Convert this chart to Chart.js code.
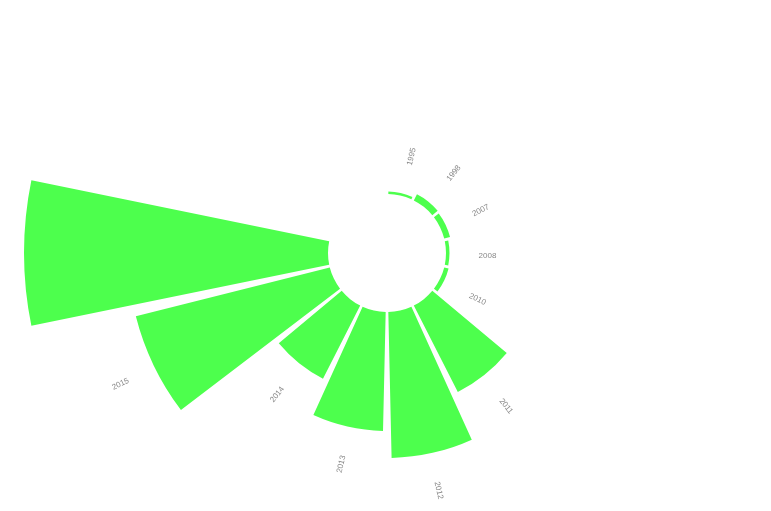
<!DOCTYPE html>
<html>
<head>
<meta charset="utf-8">
<script src="https://cdn.jsdelivr.net/npm/chart.js@4/dist/chart.umd.min.js"></script>
<style>
  html, body { margin: 0; padding: 0; background: #fff; }
  #wrap { width: 771px; height: 511px; position: relative; }
</style>
</head>
<body>
<div id="wrap"><canvas id="myChart"></canvas></div>
<script>
// the angle axis has 14 slots, the last three stay empty
const years = ['1995', '1998', '2007', '2008', '2010', '2011', '2012', '2013', '2014', '2015', '2016', '', '', ''];
const counts = [2.5, 7, 6, 3.5, 4.5, 97, 146, 119, 82, 200, 304, null, null, null];
const radiusMin = -59; // leaves the hole in the middle
const radiusMax = 194;
const barShare = 0.9;  // part of a slot a bar takes

const holePlugin = {
  id: 'hole',
  afterDatasetsUpdate(chart) {
    const base = chart.scales.r.getDistanceFromCenterForValue(0);
    chart.getDatasetMeta(0).data.forEach(function(arc) {
      if (isNaN(arc.outerRadius)) return;
      const cut = (arc.endAngle - arc.startAngle) * (1 - barShare) / 2;
      arc.innerRadius = base;
      arc.startAngle += cut;
      arc.endAngle -= cut;
    });
  },
  afterDatasetsDraw(chart) {
    const ctx = chart.ctx;
    ctx.save();
    ctx.font = '8px "Liberation Sans", Arial, sans-serif';
    ctx.fillStyle = '#888';
    ctx.textAlign = 'center';
    ctx.textBaseline = 'middle';
    chart.getDatasetMeta(0).data.forEach(function(arc, i) {
      if (isNaN(arc.outerRadius) || !years[i]) return;
      const mid = (arc.startAngle + arc.endAngle) / 2;
      const r = arc.outerRadius + 38;
      let rot = mid;
      if (rot > Math.PI / 2) rot -= Math.PI;
      if (rot < -Math.PI / 2) rot += Math.PI;
      ctx.save();
      ctx.translate(arc.x + Math.cos(mid) * r, arc.y + Math.sin(mid) * r);
      ctx.rotate(rot);
      ctx.fillText(years[i], 0, 2.5);
      ctx.restore();
    });
    ctx.restore();
  }
};

new Chart(document.getElementById('myChart'), {
  type: 'polarArea',
  data: {
    labels: years,
    datasets: [{
      data: counts,
      backgroundColor: '#4dff4d',
      borderWidth: 0
    }]
  },
  options: {
    responsive: true,
    maintainAspectRatio: false,
    animation: false,
    layout: { padding: { left: 4, bottom: 4 } },
    plugins: {
      legend: { display: false },
      tooltip: { enabled: false }
    },
    scales: {
      r: {
        min: radiusMin,
        max: radiusMax,
        ticks: { display: false },
        grid: { display: false },
        angleLines: { display: false },
        pointLabels: { display: false }
      }
    }
  },
  plugins: [holePlugin]
});
</script>
</body>
</html>
